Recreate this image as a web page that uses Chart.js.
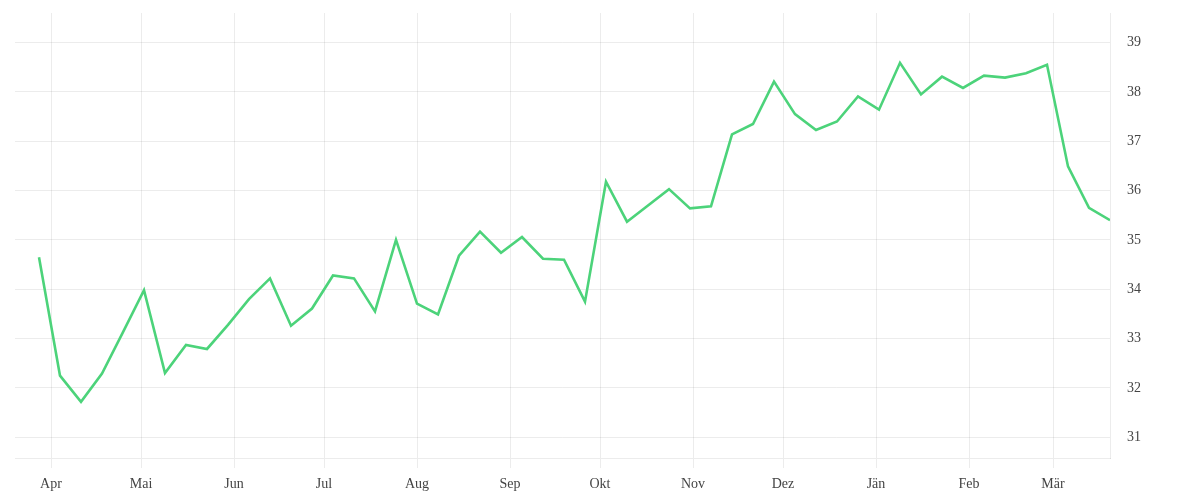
<!DOCTYPE html>
<html>
<head>
<meta charset="utf-8">
<script src="https://cdn.jsdelivr.net/npm/chart.js@4"></script>
<style>
  html, body { margin: 0; padding: 0; background: #ffffff; }
  #wrap { width: 1200px; height: 500px; }
</style>
</head>
<body>
<div id="wrap"><canvas id="c" width="1200" height="500"></canvas></div>
<script>
// ---- data ----
const weekDates = [
  '2018-03-28','2018-04-04','2018-04-11','2018-04-18','2018-04-25',
  '2018-05-02','2018-05-09','2018-05-16','2018-05-23','2018-05-30',
  '2018-06-06','2018-06-13','2018-06-20','2018-06-27',
  '2018-07-04','2018-07-11','2018-07-18','2018-07-25',
  '2018-08-01','2018-08-08','2018-08-15','2018-08-22','2018-08-29',
  '2018-09-05','2018-09-12','2018-09-19','2018-09-26',
  '2018-10-03','2018-10-10','2018-10-17','2018-10-24','2018-10-31',
  '2018-11-07','2018-11-14','2018-11-21','2018-11-28',
  '2018-12-05','2018-12-12','2018-12-19','2018-12-26',
  '2019-01-02','2019-01-09','2019-01-16','2019-01-23','2019-01-30',
  '2019-02-06','2019-02-13','2019-02-20','2019-02-27',
  '2019-03-06','2019-03-13','2019-03-20'
];
const values = [
  34.65, 32.25, 31.72, 32.29, 33.13,
  33.98, 32.30, 32.87, 32.79, 33.28,
  33.80, 34.22, 33.26, 33.61,
  34.28, 34.22, 33.55, 35.00,
  33.71, 33.49, 34.68, 35.17, 34.74,
  35.06, 34.62, 34.60, 33.75,
  36.18, 35.37, 35.70, 36.03, 35.64,
  35.68, 37.14, 37.35, 38.21,
  37.55, 37.23, 37.40, 37.91,
  37.64, 38.59, 37.95, 38.31, 38.08,
  38.33, 38.29, 38.38, 38.55,
  36.49, 35.65, 35.40
];
const monthStarts = [
  '2018-04-01','2018-05-01','2018-06-01','2018-07-01','2018-08-01','2018-09-01',
  '2018-10-01','2018-11-01','2018-12-01','2019-01-01','2019-02-01','2019-03-01'
];
const monthLabels = ['Apr','Mai','Jun','Jul','Aug','Sep','Okt','Nov','Dez','Jän','Feb','Mär'];
const yTickValues = [31, 32, 33, 34, 35, 36, 37, 38, 39];
const xRange = ['2018-03-20', '2019-03-20'];
const yRange = [30.58, 39.6];

// ---- helpers ----
const ORIGIN = Date.UTC(2018, 3, 1);
function dayOf(s) {
  const p = s.split('-').map(Number);
  return (Date.UTC(p[0], p[1] - 1, p[2]) - ORIGIN) / 86400000;
}
const points = weekDates.map((d, i) => ({ x: dayOf(d), y: values[i] }));
const monthDays = monthStarts.map(dayOf);

const gridColor = 'rgba(0,0,0,0.075)';
const fontFamily = '"Liberation Serif", "DejaVu Serif", serif';

new Chart(document.getElementById('c'), {
  type: 'line',
  data: {
    datasets: [{
      data: points,
      borderColor: '#4cd37a',
      borderWidth: 2.6,
      pointRadius: 0,
      pointHoverRadius: 0,
      tension: 0,
      fill: false
    }]
  },
  options: {
    responsive: false,
    animation: false,
    devicePixelRatio: 1,
    layout: { padding: { left: 15, top: 13, right: 0, bottom: 0 } },
    plugins: { legend: { display: false }, tooltip: { enabled: false } },
    scales: {
      x: {
        type: 'linear',
        position: 'bottom',
        min: dayOf(xRange[0]),
        max: dayOf(xRange[1]),
        afterBuildTicks: (s) => { s.ticks = monthDays.map(v => ({ value: v })); },
        afterFit: (s) => { s.height = 42; s.paddingLeft = 0; s.paddingRight = 0; },
        grid: { color: gridColor, lineWidth: 1, drawTicks: true, tickLength: 10 },
        border: { display: true, color: gridColor },
        ticks: {
          autoSkip: false,
          maxRotation: 0,
          padding: 8,
          color: '#444',
          font: { family: fontFamily, size: 14 },
          callback: (v) => { const i = monthDays.indexOf(v); return i >= 0 ? monthLabels[i] : ''; }
        }
      },
      y: {
        type: 'linear',
        position: 'right',
        min: yRange[0],
        max: yRange[1],
        afterBuildTicks: (s) => { s.ticks = yTickValues.map(v => ({ value: v })); },
        afterFit: (s) => { s.width = 90; s.paddingTop = 0; s.paddingBottom = 0; },
        grid: { color: gridColor, lineWidth: 1, drawTicks: false },
        border: { display: true, color: gridColor },
        ticks: {
          padding: 17,
          color: '#444',
          font: { family: fontFamily, size: 14 },
          callback: (v) => String(v)
        }
      }
    }
  }
});
</script>
</body>
</html>
